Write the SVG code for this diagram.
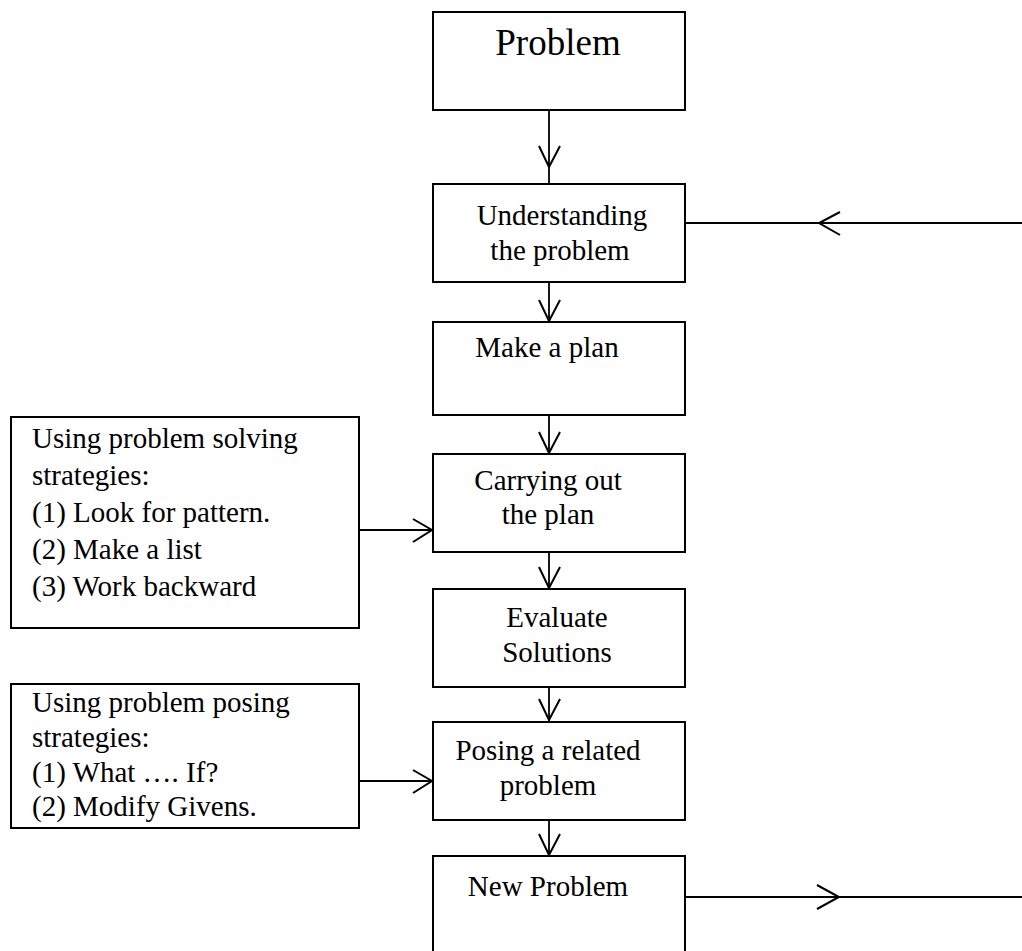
<svg xmlns="http://www.w3.org/2000/svg" width="1022" height="951" viewBox="0 0 1022 951">
<style>
.box{fill:#fff;stroke:#000;stroke-width:2}
.t{font-family:"Liberation Serif","Times New Roman",serif;font-size:29px;fill:#000}
.c{text-anchor:middle}
.ln{stroke:#000;stroke-width:1.8;fill:none}
.ah{stroke:#000;stroke-width:2;fill:none;stroke-linejoin:miter}
</style>
<rect width="1022" height="951" fill="#fff"/>
<g id="connectors">
<line class="ln" x1="549" y1="110" x2="549" y2="184"/>
<polyline class="ah" points="539,146 549,167 560,146"/>
<line class="ln" x1="549" y1="282" x2="549" y2="322"/>
<polyline class="ah" points="539,300 549,321 560,300"/>
<line class="ln" x1="549" y1="415" x2="549" y2="454"/>
<polyline class="ah" points="539,432 549,453 560,432"/>
<line class="ln" x1="549" y1="552" x2="549" y2="589"/>
<polyline class="ah" points="539,567 549,588 560,567"/>
<line class="ln" x1="549" y1="687" x2="549" y2="722"/>
<polyline class="ah" points="539,699 549,720 560,699"/>
<line class="ln" x1="549" y1="820" x2="549" y2="856"/>
<polyline class="ah" points="539,834 549,855 560,834"/>
<line class="ln" x1="359" y1="530" x2="433" y2="530"/>
<polyline class="ah" points="413,519 432,530 413,542"/>
<line class="ln" x1="359" y1="781" x2="433" y2="781"/>
<polyline class="ah" points="413,770 432,781 413,793"/>
<line class="ln" x1="685" y1="223" x2="1022" y2="223"/>
<polyline class="ah" points="840,212 819,223 840,235"/>
<line class="ln" x1="685" y1="897" x2="1022" y2="897"/>
<polyline class="ah" points="817,885 839,897 817,909"/>
</g>
<g id="problem"><rect class="box" x="433" y="12" width="252" height="98"/><text class="t c" x="558" y="55" style="font-size:37px">Problem</text></g>
<g id="understanding"><rect class="box" x="433" y="184" width="252" height="98"/><text class="t c" x="562" y="225">Understanding</text><text class="t c" x="560" y="260">the problem</text></g>
<g id="make-plan"><rect class="box" x="433" y="322" width="252" height="93"/><text class="t c" x="547" y="357">Make a plan</text></g>
<g id="carrying"><rect class="box" x="433" y="454" width="252" height="98"/><text class="t c" x="548" y="490">Carrying out</text><text class="t c" x="548" y="524">the plan</text></g>
<g id="evaluate"><rect class="box" x="433" y="589" width="252" height="98"/><text class="t c" x="557" y="627">Evaluate</text><text class="t c" x="557" y="662">Solutions</text></g>
<g id="posing"><rect class="box" x="433" y="722" width="252" height="98"/><text class="t c" x="548" y="760">Posing a related</text><text class="t c" x="548" y="795">problem</text></g>
<g id="new-problem"><path class="box" d="M433,960 V856 H685 V960"/><text class="t c" x="548" y="896">New Problem</text></g>
<g id="solving-strategies"><rect class="box" x="11" y="417" width="348" height="211"/>
<text class="t" x="32" y="448">Using problem solving</text>
<text class="t" x="32" y="485">strategies:</text>
<text class="t" x="32" y="522">(1) Look for pattern.</text>
<text class="t" x="32" y="559">(2) Make a list</text>
<text class="t" x="32" y="596">(3) Work backward</text></g>
<g id="posing-strategies"><rect class="box" x="11" y="684" width="348" height="144"/>
<text class="t" x="32" y="712">Using problem posing</text>
<text class="t" x="32" y="747">strategies:</text>
<text class="t" x="32" y="782">(1) What …. If?</text>
<text class="t" x="32" y="816">(2) Modify Givens.</text></g>
</svg>
